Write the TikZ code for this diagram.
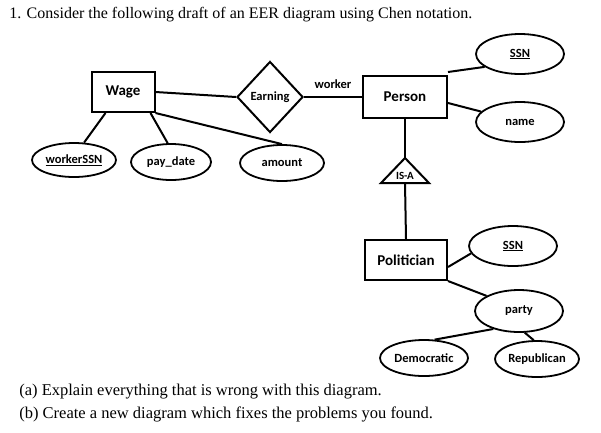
\documentclass[tikz,border=0pt]{standalone}
\usepackage{fontspec}
\setmainfont{Liberation Serif}
\newfontfamily\carl{Carlito}
\usetikzlibrary{shapes.geometric}
\begin{document}
\begin{tikzpicture}[x=1pt,y=-1pt,line width=2pt,
  ent/.style={draw,rectangle,minimum width=63pt,minimum height=40pt,font=\carl\bfseries\fontsize{15}{17}\selectfont},
  att/.style={draw,ellipse,line width=1.8pt,inner sep=1pt,font=\carl\bfseries\fontsize{12.5}{14}\selectfont},
  rel/.style={draw,diamond,minimum width=66pt,minimum height=71pt,inner sep=0pt,font=\carl\bfseries\fontsize{12.5}{14}\selectfont}]
\useasboundingbox (0,0) rectangle (601,432);
\node[anchor=west,font=\fontsize{16}{18}\selectfont] (title) at (5,15) {1. Consider the following draft of an EER diagram using Chen notation.};
\node[ent] (wage) at (123,92) {Wage};
\node[rel] (earn) at (270,97) {Earning};
\node[ent,minimum width=84pt,minimum height=42pt] (person) at (405,97) {Person};
\node[font=\carl\bfseries\fontsize{12.5}{14}\selectfont] (worker) at (333,84) {worker};
\node[att,minimum width=88pt,minimum height=40pt] (ssn) at (520,54) {\underline{SSN}};
\node[att,minimum width=88pt,minimum height=40pt] (name) at (520,122) {name};
\node[att,minimum width=84pt,minimum height=34pt,inner sep=0pt] (wssn) at (74,160) {\underline{workerSSN}};
\node[att,minimum width=80pt,minimum height=36pt] (pay) at (171,162) {pay\_date};
\node[att,minimum width=84pt,minimum height=36pt] (amount) at (282,163) {amount};
\coordinate (apex) at (405,158);
\coordinate (bl) at (381,183);
\coordinate (br) at (429,183);
\coordinate (bm) at (405,183);
\draw (apex) -- (bl) -- (br) -- cycle;
\node[font=\carl\bfseries\fontsize{11}{12}\selectfont] (isa) at (405,176) {IS-A};
\node[ent,minimum width=82pt,minimum height=40pt] (pol) at (406,260) {Politician};
\node[att,minimum width=88pt,minimum height=40pt] (ssn2) at (513,246) {\underline{SSN}};
\node[att,minimum width=88pt,minimum height=42pt] (party) at (519,311) {party};
\node[att,minimum width=88pt,minimum height=36pt,inner sep=0pt] (dem) at (424,358) {Democratic};
\node[att,minimum width=84pt,minimum height=36pt,inner sep=0pt] (rep) at (537,359) {Republican};
\draw (wage.east) -- (earn.west);
\draw (earn.east) -- (person.west);
\draw ([yshift=3pt]person.north east) -- (ssn.200);
\draw ([yshift=-6pt]person.east) -- (name.165);
\draw ([xshift=15pt]wage.south west) -- (wssn.60);
\draw ([xshift=-5pt]wage.south east) -- (pay.100);
\draw (wage.south east) -- (amount.north);
\draw (person.south) -- (apex);
\draw (bm) -- (pol.north);
\draw ([yshift=-7pt]pol.east) -- (ssn2.190);
\draw (pol.south east) -- (party.155);
\draw (party.215) -- (dem.60);
\draw (party.285) -- (rep.100);
\node[anchor=west,font=\fontsize{16.5}{18}\selectfont] (qa) at (15,392) {(a) Explain everything that is wrong with this diagram.};
\node[anchor=west,font=\fontsize{16.5}{18}\selectfont] (qb) at (15,414) {(b) Create a new diagram which fixes the problems you found.};
\end{tikzpicture}
\end{document}
